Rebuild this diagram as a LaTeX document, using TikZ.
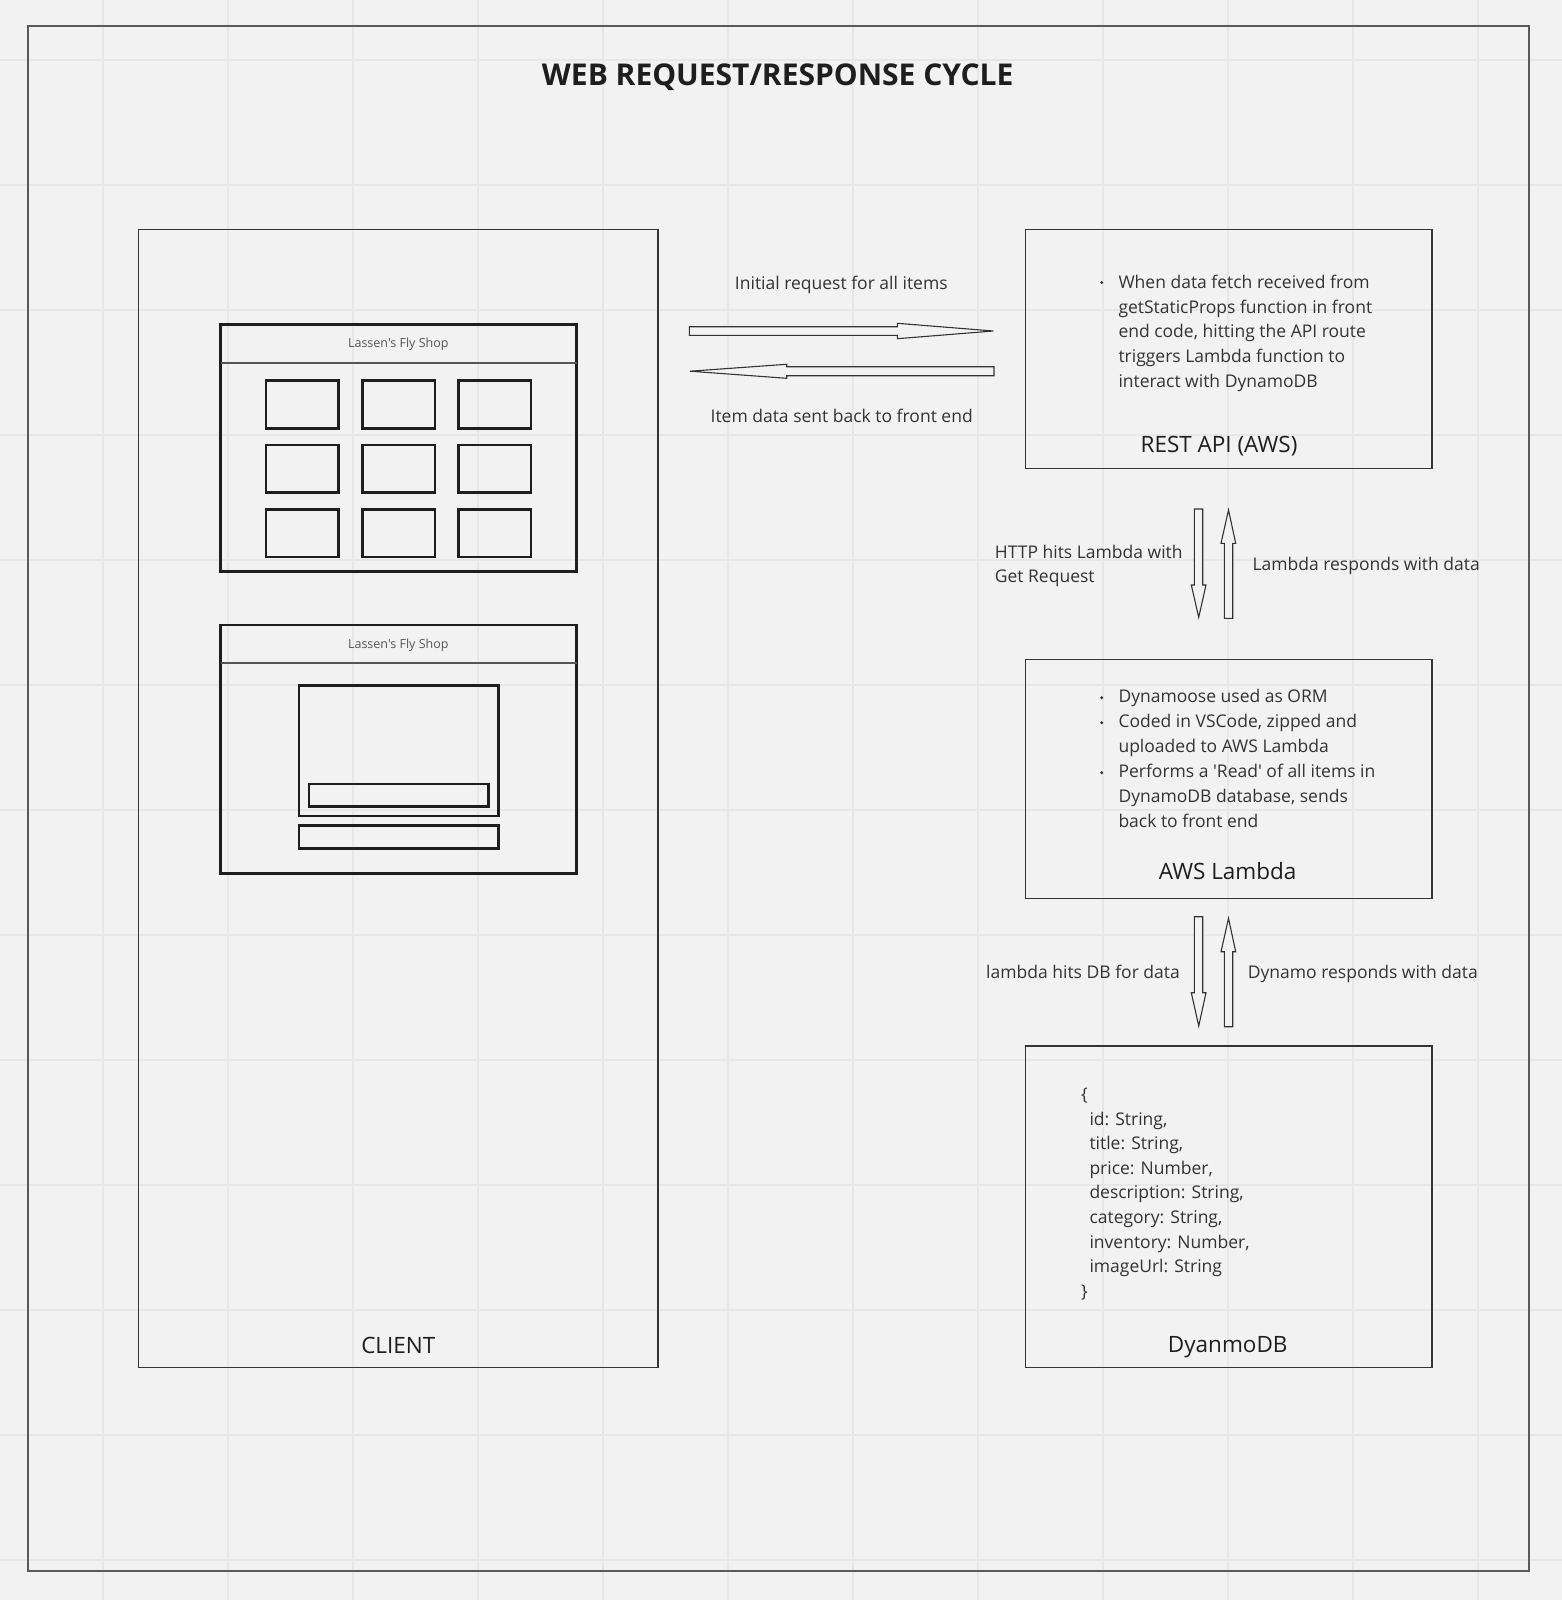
\documentclass[tikz,border=0pt]{standalone}
\usepackage{fontspec}
\setmainfont{Open Sans}[Ligatures=TeXOff]
\definecolor{bg}{HTML}{F2F2F2}
\definecolor{gridc}{HTML}{E7E7E7}
\definecolor{ink}{HTML}{333333}
\definecolor{darkink}{HTML}{1E1E1E}
\definecolor{framec}{HTML}{5A5A5A}
\definecolor{hdr}{HTML}{555555}
\begin{document}
\begin{tikzpicture}[x=1pt,y=-1pt,
  gridline/.style={draw=gridc, line width=1.6pt},
  body/.style={font=\fontsize{17.5}{24.8}\selectfont, text=ink, inner sep=0pt},
  boxlabel/.style={font=\fontsize{22.5}{27}\selectfont, text=darkink, inner sep=0pt, anchor=base},
  shoptitle/.style={font=\fontsize{12.5}{15}\selectfont, text=hdr, inner sep=0pt, anchor=base},
  outerframe/.style={draw=framec, line width=1.8pt},
  panel/.style={draw=darkink!90, line width=1.3pt},
  browser/.style={draw=darkink, line width=2.8pt},
  tile/.style={draw=darkink, line width=2.6pt},
  hdrline/.style={draw=hdr, line width=1.8pt},
  blockarrow/.style={draw=ink, line width=1.1pt, fill=bg, line join=miter},
  dotb/.style={fill=ink, draw=none}
]
\useasboundingbox (0,0) rectangle (1562,1600);
\fill[bg] (0,0) rectangle (1562,1600);
% grid
\foreach \gx in {103,228,...,1478} \draw[gridline] (\gx,0) -- (\gx,1600);
\foreach \gy in {60,185,...,1560} \draw[gridline] (0,\gy) -- (1562,\gy);

% outer frame
\draw[outerframe] (27.7,26) rectangle (1529.3,1571);
\node[font=\fontsize{30}{35}\selectfont\bfseries, text=darkink, inner sep=0pt, anchor=base] (title) at (777.7,85.7) {WEB REQUEST/RESPONSE CYCLE};

% client
\draw[panel] (138.7,229.5) rectangle (658,1367.5);
\node[boxlabel] (client) at (398.3,1353) {CLIENT};

% browser 1
\draw[browser] (220.7,324.3) rectangle (576.7,571.7);
\draw[hdrline] (220.7,362.7) -- (576.7,362.7);
\node[shoptitle] (shop1) at (398.3,347.7) {Lassen's Fly Shop};
\foreach \xa/\xb in {266/338.7,362.3/435,458.3/531}
  \foreach \ya/\yb in {380.7/428.3,445/492.7,509.3/557}
    \draw[tile] (\xa,\ya) rectangle (\xb,\yb);

% browser 2
\draw[browser] (220.7,625) rectangle (576.7,873.3);
\draw[hdrline] (220.7,663.3) -- (576.7,663.3);
\node[shoptitle] (shop2) at (398.3,648.3) {Lassen's Fly Shop};
\draw[tile] (299,685.7) rectangle (498.3,816);
\draw[tile] (309,784) rectangle (488.3,806.7);
\draw[tile] (299,825.7) rectangle (498.3,848.3);

% REST API box
\draw[panel] (1025.3,229.3) rectangle (1432,468.3);
\fill[dotb] (1101.7,282.5) circle (1.6);
\node[body, anchor=base west] (r1) at (1118.3,288.3) {When data fetch received from};
\node[body, anchor=base west] (r2) at (1118.3,313.1) {getStaticProps function in front};
\node[body, anchor=base west] (r3) at (1118.3,337.9) {end code, hitting the API route};
\node[body, anchor=base west] (r4) at (1118.3,362.7) {triggers Lambda function to};
\node[body, anchor=base west] (r5) at (1118.3,387.5) {interact with DynamoDB};
\node[boxlabel] (restlabel) at (1219,452.7) {REST API (AWS)};

% Lambda box
\draw[panel] (1025.3,659.3) rectangle (1432,898.3);
\fill[dotb] (1101.7,697.7) circle (1.6);
\fill[dotb] (1101.7,722.7) circle (1.6);
\fill[dotb] (1101.7,772.7) circle (1.6);
\node[body, anchor=base west] (l1) at (1118.3,702.7) {Dynamoose used as ORM};
\node[body, anchor=base west] (l2) at (1118.3,727.7) {Coded in VSCode, zipped and};
\node[body, anchor=base west] (l3) at (1118.3,752.7) {uploaded to AWS Lambda};
\node[body, anchor=base west] (l4) at (1118.3,777.7) {Performs a 'Read' of all items in};
\node[body, anchor=base west] (l5) at (1118.3,802.7) {DynamoDB database, sends};
\node[body, anchor=base west] (l6) at (1118.3,827.7) {back to front end};
\node[boxlabel] (lambdalabel) at (1227.7,879.3) {AWS Lambda};

% Dynamo box
\draw[panel] (1025.3,1046) rectangle (1432,1367.5);
\node[body, anchor=base west] (d0) at (1081,1100.5) {\{};
\node[body, anchor=base west] (d1) at (1089.3,1125.1) {id: String,};
\node[body, anchor=base west] (d2) at (1089.3,1149.7) {title: String,};
\node[body, anchor=base west] (d3) at (1089.3,1174.3) {price: Number,};
\node[body, anchor=base west] (d4) at (1089.3,1198.9) {description: String,};
\node[body, anchor=base west] (d5) at (1089.3,1223.5) {category: String,};
\node[body, anchor=base west] (d6) at (1089.3,1248.1) {inventory: Number,};
\node[body, anchor=base west] (d7) at (1089.3,1272.7) {imageUrl: String};
\node[body, anchor=base west] (d8) at (1081,1297.3) {\}};
\node[boxlabel] (dynamolabel) at (1227.7,1352.3) {DyanmoDB};

% horizontal arrows
\draw[blockarrow] (689.3,326.7) -- (897.3,326.7) -- (897.3,323.3) -- (993.3,331) -- (897.3,338.7) -- (897.3,335.3) -- (689.3,335.3) -- cycle;
\draw[blockarrow] (994,366.7) -- (786.7,366.7) -- (786.7,364.3) -- (690,371.2) -- (786.7,378.3) -- (786.7,375.7) -- (994,375.7) -- cycle;
\node[body, anchor=base] (req) at (841.3,289.3) {Initial request for all items};
\node[body, anchor=base] (resp) at (841.7,422.7) {Item data sent back to front end};

% vertical arrows REST <-> Lambda
\draw[blockarrow] (1194.3,509) -- (1194.3,585) -- (1191.3,585) -- (1198.7,617.3) -- (1206,585) -- (1202.7,585) -- (1202.7,509) -- cycle;
\draw[blockarrow] (1224.3,618.3) -- (1224.3,543.3) -- (1221,543.3) -- (1228.5,510) -- (1235.7,543.3) -- (1232.7,543.3) -- (1232.7,618.3) -- cycle;
\node[body, anchor=base west] (h1) at (994.7,558.3) {HTTP hits Lambda with};
\node[body, anchor=base west] (h2) at (994.7,582.9) {Get Request};
\node[body, anchor=base west] (h3) at (1252.3,570) {Lambda responds with data};

% vertical arrows Lambda <-> Dynamo
\draw[blockarrow] (1194.3,916.7) -- (1194.3,992.7) -- (1191.3,992.7) -- (1198.7,1026) -- (1206,992.7) -- (1202.7,992.7) -- (1202.7,916.7) -- cycle;
\draw[blockarrow] (1224.3,1026.7) -- (1224.3,951.7) -- (1221,951.7) -- (1228.5,918.3) -- (1235.7,951.7) -- (1232.7,951.7) -- (1232.7,1026.7) -- cycle;
\node[body, anchor=base east] (b1) at (1180,978.3) {lambda hits DB for data};
\node[body, anchor=base west] (b2) at (1247.7,978.3) {Dynamo responds with data};
\end{tikzpicture}
\end{document}
